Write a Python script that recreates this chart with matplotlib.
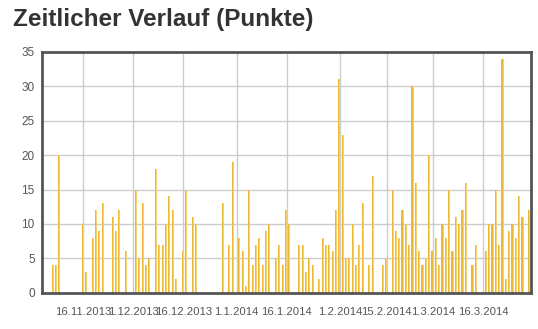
import numpy as np
import pandas as pd
import matplotlib
matplotlib.use("Agg")
import matplotlib.pyplot as plt
import matplotlib.dates as mdates

# days with points and the points scored that day
days = [
    "2013-11-07", "2013-11-08", "2013-11-09", "2013-11-16", "2013-11-17", "2013-11-19",
    "2013-11-20", "2013-11-21", "2013-11-22", "2013-11-25", "2013-11-26", "2013-11-27",
    "2013-11-29", "2013-12-02", "2013-12-03", "2013-12-04", "2013-12-05", "2013-12-06",
    "2013-12-08", "2013-12-09", "2013-12-10", "2013-12-11", "2013-12-12", "2013-12-13",
    "2013-12-14", "2013-12-16", "2013-12-17", "2013-12-19", "2013-12-20", "2013-12-28",
    "2013-12-30", "2013-12-31", "2014-01-02", "2014-01-03", "2014-01-04", "2014-01-05",
    "2014-01-06", "2014-01-07", "2014-01-08", "2014-01-09", "2014-01-10", "2014-01-11",
    "2014-01-13", "2014-01-14", "2014-01-15", "2014-01-16", "2014-01-17", "2014-01-20",
    "2014-01-21", "2014-01-22", "2014-01-23", "2014-01-24", "2014-01-26", "2014-01-27",
    "2014-01-28", "2014-01-29", "2014-01-30", "2014-01-31", "2014-02-01", "2014-02-02",
    "2014-02-03", "2014-02-04", "2014-02-05", "2014-02-06", "2014-02-07", "2014-02-08",
    "2014-02-10", "2014-02-11", "2014-02-14", "2014-02-15", "2014-02-17", "2014-02-18",
    "2014-02-19", "2014-02-20", "2014-02-21", "2014-02-22", "2014-02-23", "2014-02-24",
    "2014-02-25", "2014-02-26", "2014-02-27", "2014-02-28", "2014-03-01", "2014-03-02",
    "2014-03-03", "2014-03-04", "2014-03-05", "2014-03-06", "2014-03-07", "2014-03-08",
    "2014-03-09", "2014-03-10", "2014-03-11", "2014-03-13", "2014-03-14", "2014-03-17",
    "2014-03-18", "2014-03-19", "2014-03-20", "2014-03-21", "2014-03-22", "2014-03-23",
    "2014-03-24", "2014-03-25", "2014-03-26", "2014-03-27", "2014-03-28", "2014-03-30",
]
points = [
    4, 4, 20, 10, 3, 8,
    12, 9, 13, 11, 9, 12,
    6, 15, 5, 13, 4, 5,
    18, 7, 7, 10, 14, 12,
    2, 6, 15, 11, 10, 13,
    7, 19, 8, 6, 1, 15,
    4, 7, 8, 4, 9, 10,
    5, 7, 4, 12, 10, 7,
    7, 3, 5, 4, 2, 8,
    7, 7, 6, 12, 31, 23,
    5, 5, 10, 4, 7, 13,
    4, 17, 4, 5, 15, 9,
    8, 12, 10, 7, 30, 16,
    6, 4, 5, 20, 6, 8,
    4, 10, 8, 15, 6, 11,
    10, 12, 16, 4, 7, 6,
    10, 10, 15, 7, 34, 2,
    9, 10, 8, 14, 11, 12,
]

tick_days = ["2013-11-16", "2013-12-01", "2013-12-16", "2014-01-01", "2014-01-16",
             "2014-02-01", "2014-02-15", "2014-03-01", "2014-03-16"]
tick_labels = ["16.11.2013", "1.12.2013", "16.12.2013", "1.1.2014", "16.1.2014",
               "1.2.2014", "15.2.2014", "1.3.2014", "16.3.2014"]

x = mdates.date2num(pd.to_datetime(days))
ticks = mdates.date2num(pd.to_datetime(tick_days))

plt.rcParams['font.family'] = ['Liberation Sans', 'DejaVu Sans']

fig = plt.figure(figsize=(5.38, 3.29), dpi=100)
ax = fig.add_axes([0.0775, 0.1103, 0.9089, 0.7317])

# two-tone bars: darker left half, lighter right half
ax.bar(x - 0.55, points, width=0.35, align='edge', color='#ebb934', lw=0, zorder=3)
ax.bar(x - 0.2, points, width=0.3, align='edge', color='#f5d171', lw=0, zorder=3)

ax.set_xlim(mdates.date2num(pd.Timestamp("2013-11-03 12:00")),
            mdates.date2num(pd.Timestamp("2014-03-30 05:00")))
ax.set_ylim(0, 35)
ax.set_yticks(np.arange(0, 36, 5))
ax.set_xticks(ticks)
ax.set_xticklabels(tick_labels)

ax.grid(True, color='#cccccc', lw=1, zorder=0)
ax.tick_params(axis='both', length=0, labelsize=8.5, colors='#555555')
ax.tick_params(axis='x', pad=10, labelsize=8.1)
ax.tick_params(axis='y', pad=5)
for s in ax.spines.values():
    s.set_color('#555555')
    s.set_linewidth(2)
    s.set_zorder(5)

fig.text(13 / 538, 1 - 26 / 329, "Zeitlicher Verlauf (Punkte)", fontsize=17.5,
         fontweight='bold', color='#333333', va='baseline', ha='left')

fig.savefig("out.png", dpi=100)
